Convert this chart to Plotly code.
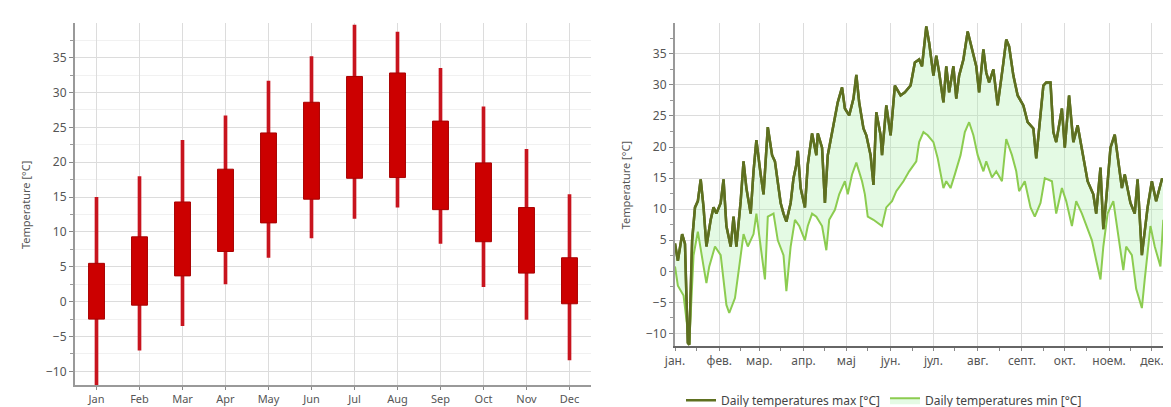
import plotly.graph_objects as go

# ---------------- Left chart: monthly temperature ranges ----------------
months = ["Jan", "Feb", "Mar", "Apr", "May", "Jun", "Jul", "Aug", "Sep", "Oct", "Nov", "Dec"]
abs_max = [15.0, 18.0, 23.2, 26.7, 31.7, 35.2, 39.7, 38.7, 33.5, 28.0, 21.9, 15.4]
mean_max = [5.5, 9.3, 14.3, 19.0, 24.2, 28.6, 32.3, 32.8, 25.9, 19.9, 13.5, 6.3]
mean_min = [-2.5, -0.5, 3.7, 7.2, 11.3, 14.7, 17.7, 17.8, 13.2, 8.6, 4.1, -0.3]
abs_min = [-12.5, -7.0, -3.5, 2.5, 6.3, 9.1, 11.9, 13.5, 8.3, 2.1, -2.6, -8.4]

# ---------------- Right chart: daily temperatures ----------------
max_days = [0, 2, 5, 7, 8, 9, 10, 12, 14, 16, 18, 20, 22, 25, 27, 29, 32, 34, 36, 39, 41, 43, 46, 48, 50,
            53, 55, 57, 60, 62, 65, 68, 70, 74, 76, 78, 81, 83, 85, 86, 88, 91, 93, 96, 99, 100, 103, 105,
            107, 110, 112, 114, 117, 119, 122, 125, 127, 129, 132, 134, 137, 139, 141, 144, 145, 148, 151,
            154, 158, 161, 165, 168, 171, 173, 176, 178, 181, 183, 185, 188, 190, 192, 195, 197, 199, 202,
            205, 208, 211, 213, 216, 218, 220, 223, 226, 230, 232, 234, 237, 240, 244, 247, 251, 253, 256,
            258, 260, 263, 265, 267, 271, 273, 276, 279, 282, 286, 289, 293, 295, 298, 300, 302, 305, 308,
            310, 313, 315, 319, 322, 324, 327, 329, 331, 334, 337, 341, 343, 347, 349, 351]
max_vals = [4.5, 1.7, 6.0, 4.4, -4.0, -11.5, -11.8, 5.0, 10.3, 11.3, 14.8, 10.3, 4.0, 8.3, 10.3, 9.3, 11.0,
            14.8, 7.3, 4.0, 8.8, 4.0, 11.3, 17.7, 13.4, 9.3, 16.1, 21.1, 15.6, 12.4, 23.2, 18.7, 17.7, 11.0,
            9.3, 8.0, 11.0, 15.0, 17.2, 19.4, 13.4, 10.3, 17.2, 22.2, 18.7, 22.2, 19.9, 11.0, 18.7, 22.4,
            25.1, 27.2, 29.6, 26.2, 25.1, 27.8, 31.6, 27.2, 23.0, 21.9, 18.7, 13.9, 25.6, 21.9, 18.7, 26.7,
            21.9, 29.9, 28.3, 28.8, 29.9, 33.6, 34.1, 33.0, 39.4, 36.8, 31.5, 34.7, 32.0, 27.2, 33.0, 28.8,
            33.0, 27.8, 31.5, 34.1, 38.6, 35.7, 33.0, 28.8, 35.7, 32.0, 30.4, 32.5, 26.7, 33.6, 37.3, 36.2,
            31.5, 28.3, 26.7, 24.0, 23.0, 18.2, 25.1, 29.9, 30.4, 30.4, 22.4, 20.8, 26.2, 19.9, 28.3, 20.8,
            23.5, 18.2, 14.5, 12.4, 9.3, 16.7, 6.8, 11.5, 19.9, 22.0, 18.7, 13.4, 15.6, 11.0, 9.3, 14.8, 2.6,
            6.0, 10.3, 14.5, 11.3, 14.8, 14.8, 9.3, -1.3, 4.0]

min_days = [0, 2, 6, 8, 10, 13, 16, 20, 22, 24, 28, 32, 36, 38, 42, 45, 48, 51, 55, 57, 60, 63, 65, 69, 72,
            76, 78, 81, 84, 87, 91, 93, 96, 99, 103, 106, 108, 112, 115, 119, 121, 124, 127, 131, 133, 135,
            139, 142, 145, 148, 152, 155, 160, 164, 169, 171, 174, 177, 181, 184, 188, 190, 193, 196, 200,
            203, 206, 209, 212, 216, 218, 222, 225, 229, 232, 236, 239, 241, 245, 249, 252, 256, 259, 264,
            267, 271, 274, 278, 281, 285, 288, 292, 295, 298, 300, 303, 307, 310, 314, 316, 320, 323, 327,
            329, 333, 336, 340, 342, 345, 349, 351]
min_vals = [0.8, -2.3, -3.9, -8.0, -11.6, 2.6, 6.4, 0.8, -1.9, 0.8, 4.0, 2.6, -5.4, -6.7, -4.3, 0.8, 6.0,
            4.0, 6.0, 9.3, 4.0, -1.3, 8.8, 9.3, 5.0, 2.6, -3.2, 4.0, 8.3, 7.3, 5.0, 7.3, 9.3, 8.8, 7.3, 3.4,
            8.3, 9.9, 12.4, 14.5, 12.4, 15.6, 17.5, 14.5, 12.4, 8.8, 8.3, 7.8, 7.3, 10.3, 11.3, 12.9, 14.5,
            16.1, 17.7, 20.8, 22.4, 21.9, 20.8, 18.2, 13.4, 14.5, 13.4, 15.6, 18.7, 22.4, 24.0, 21.9, 18.7,
            16.1, 17.7, 15.1, 16.1, 14.5, 21.3, 18.7, 16.1, 12.9, 14.5, 10.3, 8.8, 11.0, 15.0, 14.5, 9.3,
            13.4, 11.3, 7.3, 11.3, 9.3, 7.3, 5.0, 1.8, -1.3, 4.0, 9.3, 11.3, 6.4, 0.2, 4.0, 2.6, -2.8, -5.9,
            -1.3, 7.3, 4.0, 0.8, 8.3, 4.0, -8.0, -4.3]

month_start_days = [0, 31, 59, 90, 120, 151, 181, 212, 243, 273, 304, 334]
month_labels_mk = ["јан.", "фев.", "мар.", "апр.", "мај", "јун.", "јул.", "авг.", "септ.", "окт.", "ноем.", "дек."]
y_ticks = [-10, -5, 0, 5, 10, 15, 20, 25, 30, 35]

FONT = "Noto Sans"
TXT = "#555555"
GRID = "#dcdcdc"

fig = go.Figure()

# whiskers (absolute range)
fig.add_trace(go.Bar(
    x=months, base=abs_min, y=[a - b for a, b in zip(abs_max, abs_min)],
    width=0.085, marker=dict(color="#c8141e", line=dict(width=0)),
    showlegend=False, xaxis="x", yaxis="y", hoverinfo="skip"))
# boxes (mean range)
fig.add_trace(go.Bar(
    x=months, base=mean_min, y=[a - b for a, b in zip(mean_max, mean_min)],
    width=0.37, marker=dict(color="#cc0000", line=dict(color="#a80000", width=1)),
    showlegend=False, xaxis="x", yaxis="y", hoverinfo="skip"))

# daily max / min with fill between
fig.add_trace(go.Scatter(
    x=max_days, y=max_vals, mode="lines", line=dict(color="#5e7020", width=2.5),
    name="Daily temperatures max [°C]", xaxis="x2", yaxis="y2"))
fig.add_trace(go.Scatter(
    x=min_days, y=min_vals, mode="lines", line=dict(color="#8ccc50", width=2),
    fill="tonexty", fillcolor="rgba(170,240,170,0.32)",
    name="Daily temperatures min [°C]", xaxis="x2", yaxis="y2"))
fig.add_trace(go.Scatter(
    x=max_days, y=max_vals, mode="lines", line=dict(color="#5e7020", width=2.5),
    showlegend=False, xaxis="x2", yaxis="y2", hoverinfo="skip"))

axis_common = dict(
    showline=True, linecolor="#999999", linewidth=1.5, ticks="outside", ticklen=3,
    tickcolor="#888888", tickfont=dict(family=FONT, size=12, color=TXT),
    gridcolor=GRID, gridwidth=1, zeroline=False, automargin=False, fixedrange=True,
)

fig.update_layout(
    width=1171, height=407,
    margin=dict(l=0, r=0, t=0, b=0),
    paper_bgcolor="white", plot_bgcolor="white",
    barmode="overlay",
    font=dict(family=FONT, size=12, color=TXT),
    xaxis=dict(axis_common, domain=[67 / 1171, 583 / 1171], anchor="y",
               type="category", range=[-0.5, 11.5], showgrid=True,
               tickfont=dict(family=FONT, size=11, color=TXT)),
    yaxis=dict(axis_common, domain=[1 - 383 / 407, 1 - 15 / 407], anchor="x",
               range=[-12, 40], tickvals=y_ticks, linewidth=2, ticklen=4,
               minor=dict(tickmode="linear", tick0=2.5, dtick=5, ticks="outside", ticklen=3,
                          tickcolor="#999999", showgrid=True, gridcolor="#f1f1f1")),
    xaxis2=dict(axis_common, domain=[667 / 1171, 1.0], anchor="y2",
                range=[0, 353], tickvals=month_start_days, ticktext=month_labels_mk, showgrid=True,
                linecolor="#666666",
                minor=dict(tickmode="array", tickvals=[d + 15 for d in month_start_days],
                           ticks="outside", ticklen=3, tickcolor="#888888", showgrid=False)),
    yaxis2=dict(axis_common, domain=[1 - 343 / 407, 1 - 15 / 407], anchor="x2",
                range=[-12, 40], tickvals=y_ticks, linewidth=2, ticklen=4,
                minor=dict(tickmode="linear", tick0=2.5, dtick=5, ticks="outside", ticklen=3,
                           tickcolor="#999999", showgrid=False)),
    legend=dict(orientation="h", x=673 / 1171, y=9 / 407, xanchor="left", yanchor="middle",
                traceorder="normal",
                font=dict(family=FONT, size=12, color="#444444"), itemwidth=30,
                bgcolor="rgba(0,0,0,0)", tracegroupgap=0),
    annotations=[
        dict(text="Temperature [°C]", x=17 / 1171, y=1 - 200 / 407, xref="paper", yref="paper",
             textangle=-90, showarrow=False, font=dict(family=FONT, size=11, color=TXT),
             xanchor="center", yanchor="middle"),
        dict(text="Temperature [°C]", x=617 / 1171, y=1 - 180 / 407, xref="paper", yref="paper",
             textangle=-90, showarrow=False, font=dict(family=FONT, size=11, color=TXT),
             xanchor="center", yanchor="middle"),
    ],
)

fig.write_html("out.html")
